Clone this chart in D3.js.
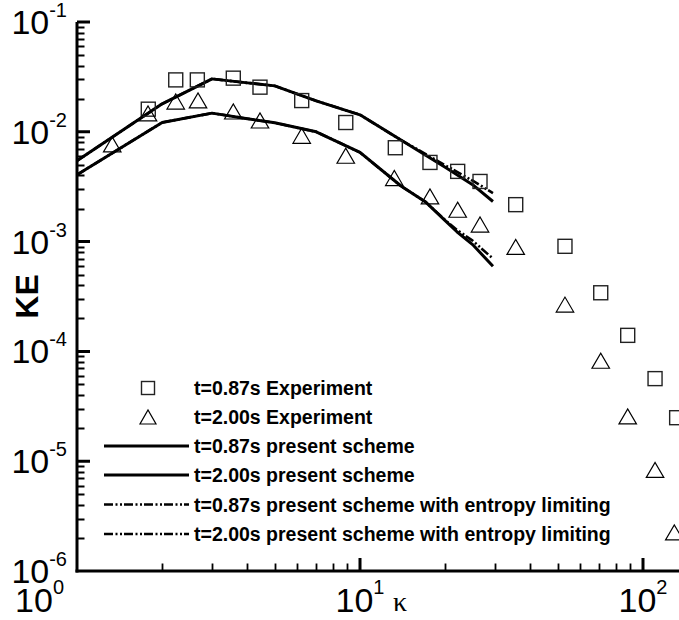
<!DOCTYPE html>
<html>
<head>
<meta charset="utf-8">
<script src="https://cdn.jsdelivr.net/npm/d3@7"></script>
<style>
  html, body { margin: 0; padding: 0; background: #fff; overflow: hidden; }
  svg { display: block; }
</style>
</head>
<body>
<script>
// ---------- data ----------
const sqK  = [1.786, 2.233, 2.662, 3.567, 4.432, 6.223, 8.906, 13.33, 17.67, 22.14, 26.55, 35.5, 53.0, 70.9, 88.3, 110.3, 131.5];
const sqKE = [0.01607, 0.0297, 0.0297, 0.0308, 0.0255, 0.01925, 0.01215, 0.00716, 0.00526, 0.00436, 0.00353, 0.00217, 0.000906, 0.000342, 0.00014, 5.65e-5, 2.49e-5];

const triK  = [1.332, 1.782, 2.233, 2.677, 3.567, 4.432, 6.223, 8.906, 13.22, 17.67, 22.14, 26.55, 35.5, 53.0, 70.9, 88.3, 110.3, 129];
const triKE = [0.00769, 0.01473, 0.01886, 0.01934, 0.0153, 0.01267, 0.0092, 0.00605, 0.00379, 0.00258, 0.00195, 0.00143, 0.000895, 0.000267, 8.22e-5, 2.56e-5, 8.34e-6, 2.25e-6];

const lineK1 = [1, 2, 3, 4, 5, 7, 10, 14, 20, 25, 29.5];
const solid087   = [0.00545, 0.01798, 0.03034, 0.0279, 0.0262, 0.01914, 0.01428, 0.00837, 0.00476, 0.0033, 0.00232];
const entropy087 = [0.00545, 0.01798, 0.03034, 0.0279, 0.0262, 0.01914, 0.01428, 0.00837, 0.00496, 0.00359, 0.00277];

const lineK2 = [1, 2, 3, 4, 5, 7, 10, 14, 17, 20, 22, 25, 29.5];
const solid200   = [0.00406, 0.01216, 0.01479, 0.01317, 0.01207, 0.01, 0.00649, 0.00319, 0.00231, 0.00155, 0.00123, 0.00094, 0.000596];
const entropy200 = [0.00406, 0.01216, 0.01479, 0.01317, 0.01207, 0.01, 0.00649, 0.00319, 0.00231, 0.00157, 0.00128, 0.00102, 0.0007];

const xMajor = [1, 10, 100];
const xMajorExp = ["0", "1", "2"];
const yMajor = [1e-6, 1e-5, 1e-4, 1e-3, 1e-2, 1e-1];
const yMajorExp = ["-6", "-5", "-4", "-3", "-2", "-1"];

const legendLabels = [
  "t=0.87s Experiment",
  "t=2.00s Experiment",
  "t=0.87s present scheme",
  "t=2.00s present scheme",
  "t=0.87s present scheme with entropy limiting",
  "t=2.00s present scheme with entropy limiting"
];

// ---------- layout ----------
const W = 679, H = 620;
const x0 = 77, decadeX = 283;
const xMaxK = 150;
const x = d3.scaleLog().domain([1, 100]).range([x0, x0 + 2 * decadeX]);
const y = d3.scaleLog().domain([1e-6, 1e-1]).range([571, 22]);

const svg = d3.select("body").append("svg").attr("width", W).attr("height", H);
const FONT = "'Liberation Sans', Arial, Helvetica, sans-serif";

// minor tick values
const xMinor = [];
for (let d = 1; d <= 100; d *= 10) for (let m = 2; m <= 9; m++) if (d * m <= xMaxK) xMinor.push(d * m);
const yMinor = [];
for (let e = -6; e <= -2; e++) for (let m = 2; m <= 9; m++) yMinor.push(m * Math.pow(10, e));

const yBase = y(1e-6);
const xLeft = x(1);

// ---------- ticks (inward) ----------
const px = v => Math.round(v) + 0.5;
const minorPath = xMinor.map(d => `M${px(x(d))},${yBase}V${yBase - 7.5}`).join("") +
                  yMinor.map(d => `M${xLeft},${px(y(d))}H${xLeft + 7.5}`).join("");
svg.append("path").attr("d", minorPath).attr("fill", "none")
  .attr("stroke", "#000").attr("stroke-width", 1.8);
const majorPath = xMajor.slice(1).map(d => `M${x(d)},${yBase}V${yBase - 13}`).join("") +
                  yMajor.slice(1).map(d => `M${xLeft},${y(d)}H${xLeft + 13}`).join("");
svg.append("path").attr("d", majorPath).attr("fill", "none")
  .attr("stroke", "#000").attr("stroke-width", 3);

// axis lines
svg.append("line").attr("x1", xLeft - 1.5).attr("x2", x(xMaxK)).attr("y1", yBase).attr("y2", yBase)
  .attr("stroke", "#000").attr("stroke-width", 3);
svg.append("line").attr("x1", xLeft).attr("x2", xLeft).attr("y1", y(1e-1)).attr("y2", yBase + 1.5)
  .attr("stroke", "#000").attr("stroke-width", 3);

// tick labels
xMajor.forEach((v, i) => {
  const first = i === 0;
  const t = svg.append("text").attr("x", first ? 64 : x(v)).attr("y", yBase + 41)
    .attr("text-anchor", first ? "end" : "middle").attr("font-family", FONT).attr("fill", "#000");
  t.append("tspan").attr("font-size", 34).text("10");
  t.append("tspan").attr("font-size", 20).attr("dy", -18).text(xMajorExp[i]);
});
yMajor.forEach((v, i) => {
  const t = svg.append("text").attr("x", 67).attr("y", y(v) + 12)
    .attr("text-anchor", "end").attr("font-family", FONT).attr("fill", "#000");
  t.append("tspan").attr("font-size", 34).text("10");
  t.append("tspan").attr("font-size", 20).attr("dy", -17).text(yMajorExp[i]);
});

// axis titles
svg.append("text").attr("transform", `translate(38,${(y(1e-1) + yBase) / 2}) rotate(-90)`)
  .attr("text-anchor", "middle").attr("font-family", FONT).attr("font-weight", "bold")
  .attr("font-size", 32).text("KE");
svg.append("text").attr("x", 400).attr("y", 611).attr("text-anchor", "middle")
  .attr("font-family", "'Liberation Serif', 'Times New Roman', serif").attr("font-size", 28).text("κ");

// ---------- lines ----------
const line = d3.line().x(d => x(d[0])).y(d => y(d[1]));
const DASH = "9,2.5,2,2.5,2,2";
function drawLine(ks, vs, dash) {
  svg.append("path").datum(ks.map((k, i) => [k, vs[i]])).attr("d", line)
    .attr("fill", "none").attr("stroke", "#000").attr("stroke-width", dash ? 2.6 : 3)
    .attr("stroke-linejoin", "round")
    .attr("stroke-dasharray", dash ? DASH : null);
}
drawLine(lineK1, solid087, false);
drawLine(lineK2, solid200, false);
drawLine(lineK1, entropy087, true);
drawLine(lineK2, entropy200, true);

// ---------- markers ----------
const SQ = 14, TRW = 17.5, TRH = 15;
function square(g, cx, cy, s) {
  g.append("rect").attr("x", cx - s / 2).attr("y", cy - s / 2).attr("width", s).attr("height", s)
    .attr("fill", "none").attr("stroke", "#222").attr("stroke-width", 1.4);
}
function triangle(g, cx, cy, w, h) {
  g.append("path").attr("d", `M${cx - w / 2},${cy + h / 2} L${cx + w / 2},${cy + h / 2} L${cx},${cy - h / 2} Z`)
    .attr("fill", "none").attr("stroke", "#000").attr("stroke-width", 1.2).attr("stroke-linejoin", "miter");
}
const gm = svg.append("g");
sqK.forEach((k, i) => square(gm, x(k), y(sqKE[i]), SQ));
triK.forEach((k, i) => triangle(gm, x(k), y(triKE[i]), TRW, TRH));

// ---------- legend ----------
const legRows = [388, 417, 446, 475, 504.5, 534];
const lg = svg.append("g");
legendLabels.forEach((lab, i) => {
  const yy = legRows[i];
  if (i === 0) square(lg, 148, yy, 13);
  else if (i === 1) triangle(lg, 148, yy, 16, 14);
  else {
    lg.append("line").attr("x1", 104).attr("x2", 189).attr("y1", yy).attr("y2", yy)
      .attr("stroke", "#000").attr("stroke-width", i >= 4 ? 2.6 : 3)
      .attr("stroke-dasharray", i >= 4 ? DASH : null);
  }
  lg.append("text").attr("x", 194).attr("y", yy + 7).attr("font-family", FONT)
    .attr("font-weight", "bold").attr("font-size", 19.5).attr("fill", "#000").text(lab);
});
</script>
</body>
</html>
